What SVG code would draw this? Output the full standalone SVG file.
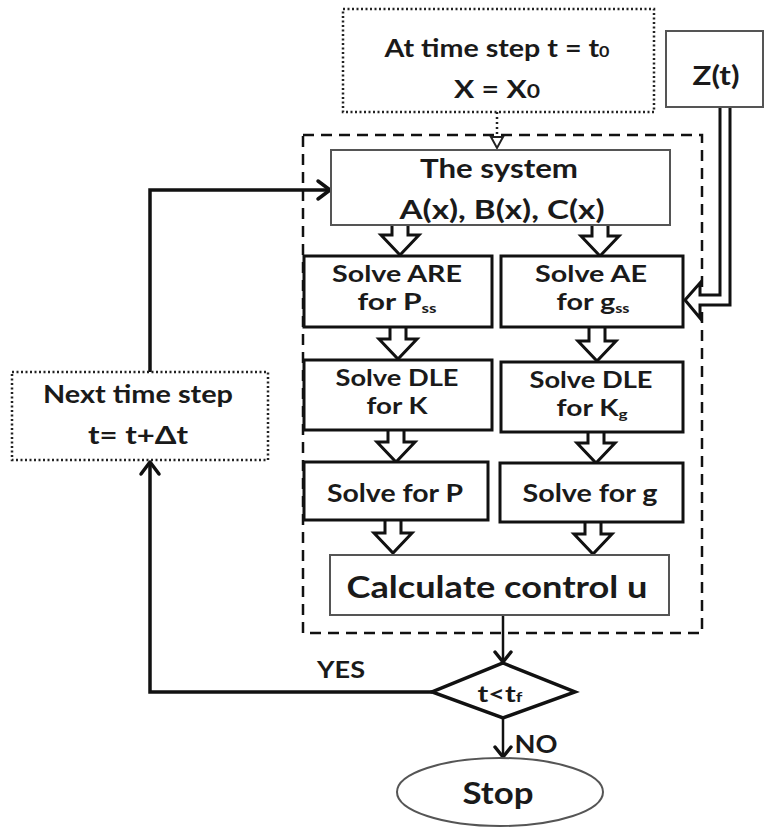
<svg xmlns="http://www.w3.org/2000/svg" width="765" height="828" viewBox="0 0 765 828">
<style>
  text { font-family: Lato, "Open Sans", "Liberation Sans", sans-serif; font-weight: bold; fill: #1a1a1a; text-anchor: middle; }
  .box { fill: #fff; stroke: #111; stroke-width: 3; }
  .gbox { fill: #fff; stroke: #555; stroke-width: 2; }
  .dot { fill: #fff; stroke: #222; stroke-width: 2.5; stroke-dasharray: 2 2.5; }
  .dash { fill: none; stroke: #111; stroke-width: 2.5; stroke-dasharray: 11 7; }
  .blk { fill: #fff; stroke: #111; stroke-width: 3; stroke-linejoin: miter; }
  .ln { fill: none; stroke: #111; stroke-width: 3.5; }
  .thin { fill: none; stroke: #111; stroke-width: 2.5; }
  .head { fill: none; stroke: #111; stroke-width: 3.5; stroke-linecap: round; stroke-linejoin: round; }
</style>

<g id="connectors">
  <!-- dashed container -->
  <rect class="dash" x="303" y="135" width="399" height="498"/>
  <!-- dotted from init to system -->
  <line x1="497" y1="112" x2="497" y2="138" stroke="#222" stroke-width="2.5" stroke-dasharray="2 3"/>
  <path d="M491 137 L503 137 L497 148 Z" fill="#fff" stroke="#222" stroke-width="2"/>
  <!-- block arrows -->
  <path class="blk" d="M392 225 V235 H381 L400 255 L419 235 H408 V225"/>
  <path class="blk" d="M592 225 V236 H581 L600 256 L619 236 H608 V225"/>
  <path class="blk" d="M390 327 V339 H379 L398 359 L417 339 H406 V327"/>
  <path class="blk" d="M589 327 V341 H578 L597 361 L616 341 H605 V327"/>
  <path class="blk" d="M388 430 V442 H377 L396 462 L415 442 H404 V430"/>
  <path class="blk" d="M588 432 V443 H577 L596 463 L615 443 H604 V432"/>
  <path class="blk" d="M385 520 V533 H374 L393 553 L412 533 H401 V520"/>
  <path class="blk" d="M585 522 V534 H574 L593 554 L612 534 H601 V522"/>
  <!-- Z(t) double arrow -->
  <path class="blk" d="M720 107 V295 H700 V283 L685 300 L700 318 V305 H730 V107"/>
  <!-- calculate to decision -->
  <line class="thin" x1="503" y1="615" x2="503" y2="662"/>
  <path class="head" d="M495 652 L503 662 L511 652"/>
  <!-- NO -->
  <line class="thin" x1="503" y1="718" x2="503" y2="757"/>
  <path class="head" d="M495 747 L503 757 L511 747"/>
  <!-- YES loop -->
  <path class="ln" d="M432 692 H150 V462"/>
  <path class="head" d="M141 474 L150 462 L159 474"/>
  <!-- next step to system -->
  <path class="ln" d="M150 372 V190 H329"/>
  <path class="head" d="M318 181 L330 190 L318 199"/>
</g>

<g id="init">
  <rect class="dot" x="343" y="9" width="311" height="103"/>
  <text x="497" y="57" font-size="24" textLength="225" lengthAdjust="spacingAndGlyphs">At time step t = t<tspan font-size="15">0</tspan></text>
  <text x="497" y="98" font-size="25" textLength="86" lengthAdjust="spacingAndGlyphs">X = X<tspan font-size="19">0</tspan></text>
</g>

<g id="zt">
  <rect class="gbox" x="666" y="31" width="97" height="76"/>
  <text x="716" y="85" font-size="26" textLength="47" lengthAdjust="spacingAndGlyphs">Z(t)</text>
</g>

<g id="system">
  <rect class="gbox" x="331" y="150" width="339" height="75"/>
  <text x="499" y="178" font-size="27" textLength="158" lengthAdjust="spacingAndGlyphs">The system</text>
  <text x="502" y="219" font-size="27" textLength="205" lengthAdjust="spacingAndGlyphs">A(x), B(x), C(x)</text>
</g>

<g id="are">
  <rect class="box" x="304" y="256" width="188" height="71"/>
  <text x="397" y="282" font-size="23" textLength="130" lengthAdjust="spacingAndGlyphs">Solve ARE</text>
  <text x="397" y="310" font-size="23" textLength="79" lengthAdjust="spacingAndGlyphs">for P<tspan font-size="13" dy="3">ss</tspan></text>
</g>

<g id="ae">
  <rect class="box" x="501" y="256" width="182" height="71"/>
  <text x="591" y="282" font-size="23" textLength="112" lengthAdjust="spacingAndGlyphs">Solve AE</text>
  <text x="593" y="310" font-size="23" textLength="73" lengthAdjust="spacingAndGlyphs">for g<tspan font-size="13" dy="3">ss</tspan></text>
</g>

<g id="dle1">
  <rect class="box" x="304" y="360" width="188" height="70"/>
  <text x="397" y="386" font-size="23" textLength="123" lengthAdjust="spacingAndGlyphs">Solve DLE</text>
  <text x="397" y="414" font-size="23" textLength="61" lengthAdjust="spacingAndGlyphs">for K</text>
</g>

<g id="dle2">
  <rect class="box" x="501" y="362" width="182" height="70"/>
  <text x="591" y="388" font-size="23" textLength="123" lengthAdjust="spacingAndGlyphs">Solve DLE</text>
  <text x="592" y="416" font-size="23" textLength="71" lengthAdjust="spacingAndGlyphs">for K<tspan font-size="14" dy="3">g</tspan></text>
</g>

<g id="solveP">
  <rect class="box" x="304" y="462" width="184" height="58"/>
  <text x="395" y="502" font-size="25" textLength="136" lengthAdjust="spacingAndGlyphs">Solve for P</text>
</g>

<g id="solveG">
  <rect class="box" x="500" y="463" width="183" height="59"/>
  <text x="590" y="502" font-size="25" textLength="135" lengthAdjust="spacingAndGlyphs">Solve for g</text>
</g>

<g id="calc">
  <rect class="gbox" x="330" y="555" width="339" height="60"/>
  <text x="497" y="598" font-size="31" textLength="301" lengthAdjust="spacingAndGlyphs">Calculate control u</text>
</g>

<g id="decision">
  <path d="M503 663 L575 692 L503 718 L432 692 Z" fill="#fff" stroke="#111" stroke-width="3.5" stroke-linejoin="miter"/>
  <text x="500" y="702" font-size="22" textLength="45" lengthAdjust="spacingAndGlyphs">t&lt;t<tspan font-size="14">f</tspan></text>
</g>

<g id="next">
  <rect class="dot" x="12" y="372" width="256" height="88"/>
  <text x="138" y="403" font-size="24" textLength="190" lengthAdjust="spacingAndGlyphs">Next time step</text>
  <text x="138" y="444" font-size="24" textLength="100" lengthAdjust="spacingAndGlyphs">t= t+Δt</text>
</g>

<g id="labels">
  <text x="341" y="678" font-size="23" textLength="48" lengthAdjust="spacingAndGlyphs">YES</text>
  <text x="536" y="753" font-size="24" textLength="43" lengthAdjust="spacingAndGlyphs">NO</text>
</g>

<g id="stop">
  <ellipse cx="500" cy="792" rx="103" ry="34" fill="#fff" stroke="#555" stroke-width="2"/>
  <text x="498" y="804" font-size="30" textLength="71" lengthAdjust="spacingAndGlyphs">Stop</text>
</g>
</svg>
